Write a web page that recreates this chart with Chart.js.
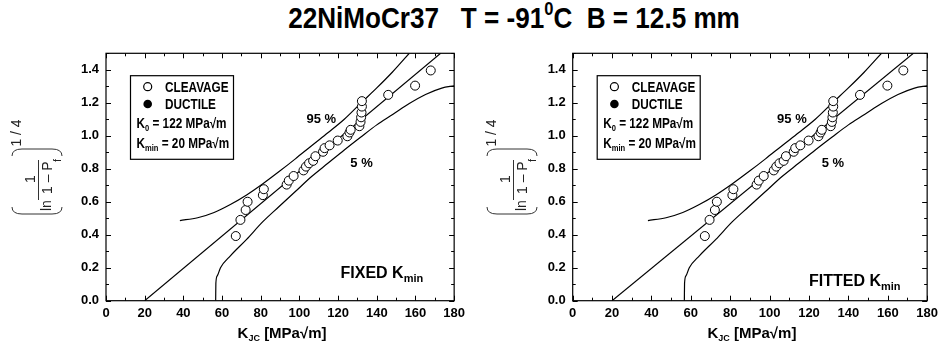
<!DOCTYPE html>
<html>
<head>
<meta charset="utf-8">
<script src="https://cdn.jsdelivr.net/npm/chart.js@4.4.0/dist/chart.umd.min.js"></script>
<style>
body{margin:0;background:#fff;width:943px;height:343px;overflow:hidden;position:relative}
#titulo{position:absolute;left:0;width:1028px;top:1px;text-align:center;white-space:pre;
  font:bold 30px "Liberation Sans Narrow","Arial Narrow","Liberation Sans",Arial,sans-serif;color:#000;
  transform:scaleX(0.87);transform-origin:514px 0}
#titulo sup{font-size:19px;vertical-align:13px;line-height:0}
canvas{position:absolute;top:0}
#GraficoFixo{left:0}
#GraficoAjustado{left:470px}
</style>
</head>
<body>
<div id="titulo">22NiMoCr37   T = -91<sup>0</sup>C  B = 12.5 mm</div>
<canvas id="GraficoFixo" width="470" height="343"></canvas>
<canvas id="GraficoAjustado" width="473" height="343"></canvas>
<script>
// K_JC dos ensaios (clivagem) e posicao de ordem (ln(1/(1-Pf)))^(1/4)
const kJC = [67.1, 69.5, 72.2, 73.2, 81.1, 81.6, 93.4, 94.5, 97.0, 102.1, 103.4, 105.0, 107.1, 108.3, 112.2, 113.0, 115.6, 119.8, 124.8, 125.9, 126.5, 131.0, 131.6, 131.9, 132.1, 132.3, 132.3, 145.9, 159.8, 167.9];
const rankPf = [0.392, 0.49, 0.55, 0.60, 0.64, 0.676, 0.704, 0.728, 0.756, 0.79, 0.813, 0.833, 0.848, 0.876, 0.903, 0.925, 0.942, 0.971, 0.997, 1.02, 1.036, 1.058, 1.084, 1.112, 1.141, 1.177, 1.21, 1.248, 1.304, 1.396];

// curva mediana
const medianaK = [20, 173];
const medianaY = [0, 1.5];

// limite 95 %
const sup95K = [38.2, 47.4, 55.9, 64.3, 72.7, 81.1, 89.5, 97.9, 106.3, 114.7, 123.2, 131.6, 140.0, 148.0, 156.8];
const sup95Y = [0.486, 0.503, 0.535, 0.583, 0.641, 0.709, 0.783, 0.86, 0.94, 1.018, 1.1, 1.196, 1.29, 1.385, 1.5];

// limite 5 %
const inf5K = [56.7, 56.8, 57.5, 59.2, 64.3, 72.7, 81.1, 89.5, 97.9, 106.3, 114.7, 123.2, 131.6, 140.0, 148.4, 156.8, 165.2, 173.6, 180];
const inf5Y = [0, 0.105, 0.15, 0.2, 0.272, 0.372, 0.479, 0.571, 0.662, 0.753, 0.833, 0.914, 0.991, 1.066, 1.13, 1.195, 1.25, 1.289, 1.303];

const ticksX = [0, 20, 40, 60, 80, 100, 120, 140, 160, 180];
const ticksY = [0.0, 0.2, 0.4, 0.6, 0.8, 1.0, 1.2, 1.4];

const FONTE = '"Liberation Sans", Arial, sans-serif';

function pares(xs, ys) {
    return xs.map(function (v, i) { return { x: v, y: ys[i] }; });
}

// texto com indices; k = compressao horizontal
function rico(ctx, partes, x, y, align, k) {
    k = k || 1;
    let w = 0;
    partes.forEach(function (p) { ctx.font = p[1]; w += ctx.measureText(p[0]).width; });
    w *= k;
    let cx = align === 'center' ? x - w / 2 : (align === 'right' ? x - w : x);
    partes.forEach(function (p) {
        ctx.font = p[1];
        ctx.save();
        ctx.translate(cx, y + (p[2] || 0));
        ctx.scale(k, 1);
        ctx.fillText(p[0], 0, 0);
        ctx.restore();
        cx += ctx.measureText(p[0]).width * k;
    });
}

const decoracao = {
    id: 'decoracao',
    afterDraw(chart, args, o) {
        const ctx = chart.ctx, a = chart.chartArea, x = chart.scales.x, y = chart.scales.y;
        ctx.save();
        ctx.strokeStyle = '#000';
        ctx.fillStyle = '#000';
        ctx.lineWidth = 1.2;
        ctx.strokeRect(a.left, a.top, a.right - a.left, a.bottom - a.top);

        // marcas para dentro, nos quatro lados
        ctx.lineWidth = 1;
        ctx.beginPath();
        for (let v = 0; v <= 180; v += 10) {
            const px = Math.round(x.getPixelForValue(v)) + 0.5;
            const L = v % 20 === 0 ? 5 : 3;
            ctx.moveTo(px, a.bottom); ctx.lineTo(px, a.bottom - L);
            ctx.moveTo(px, a.top); ctx.lineTo(px, a.top + L);
        }
        for (let i = 0; i <= 15; i++) {
            const py = Math.round(y.getPixelForValue(i / 10)) + 0.5;
            const L = i % 2 === 0 ? 5 : 3;
            ctx.moveTo(a.left, py); ctx.lineTo(a.left + L, py);
            ctx.moveTo(a.right, py); ctx.lineTo(a.right - L, py);
        }
        ctx.stroke();

        // caixa de legenda
        const bx = a.left + 24.5, by = a.top + 22.4;
        ctx.lineWidth = 1.2;
        ctx.strokeRect(bx, by, 103, 83.6);
        ctx.beginPath();
        ctx.arc(a.left + 41.7, a.top + 33.4, 4, 0, Math.PI * 2);
        ctx.stroke();
        ctx.beginPath();
        ctx.arc(a.left + 41.7, a.top + 50.7, 4.3, 0, Math.PI * 2);
        ctx.fill();
        ctx.textBaseline = 'alphabetic';
        const b14 = 'bold 14px ' + FONTE, b9 = 'bold 9px ' + FONTE, c = 0.84;
        rico(ctx, [['CLEAVAGE', b14]], a.left + 59, a.top + 38.6, 'left', c);
        rico(ctx, [['DUCTILE', b14]], a.left + 59, a.top + 55.9, 'left', c);
        rico(ctx, [['K', b14], ['0', b9, 3], [' = 122 MPa\u221Am', b14]], a.left + 30.5, a.top + 75, 'left', c);
        rico(ctx, [['K', b14], ['min', b9, 3], [' = 20 MPa\u221Am', b14]], a.left + 30.5, a.top + 95, 'left', c);

        // rotulos das curvas
        const b13 = 'bold 13px ' + FONTE;
        rico(ctx, [['95 %', b13]], x.getPixelForValue(111.3), y.getPixelForValue(1.107) + 5, 'center');
        rico(ctx, [['5 %', b13]], x.getPixelForValue(132.1), y.getPixelForValue(0.843) + 5, 'center');
        rico(ctx, [[o.painel + ' K', 'bold 16px ' + FONTE], ['min', 'bold 11px ' + FONTE, 4]],
            x.getPixelForValue(o.painelX), y.getPixelForValue(o.painelY) + 6, 'right');

        // titulo do eixo x
        rico(ctx, [['K', 'bold 15px ' + FONTE], ['JC', 'bold 9px ' + FONTE, 3], [' [MPa\u221Am]', 'bold 15px ' + FONTE]],
            (a.left + a.right) / 2 + 2, 338, 'center');

        // titulo do eixo y: (ln 1/(1-Pf))^(1/4)
        ctx.translate(o.tituloX, 181);
        ctx.rotate(-Math.PI / 2);
        ctx.strokeStyle = '#333';
        ctx.fillStyle = '#222';
        ctx.lineWidth = 1;
        ctx.beginPath();
        ctx.moveTo(-26, -25); ctx.quadraticCurveTo(-33, -25, -33, -15); ctx.lineTo(-33, 15);
        ctx.quadraticCurveTo(-33, 25, -26, 25);
        ctx.moveTo(25, -25); ctx.quadraticCurveTo(32, -25, 32, -15); ctx.lineTo(32, 15);
        ctx.quadraticCurveTo(32, 25, 25, 25);
        ctx.moveTo(-19, 1.5); ctx.lineTo(21, 1.5);
        ctx.stroke();
        const n14 = '14px ' + FONTE;
        rico(ctx, [['1', n14]], 2, -2, 'center');
        rico(ctx, [['ln', n14]], -30, 14, 'left');
        rico(ctx, [['1 \u2013 P', n14]], -13, 15, 'left');
        rico(ctx, [['f', '11px ' + FONTE]], 19, 24, 'left');
        rico(ctx, [['1 / 4', n14]], 48, -16, 'center');
        ctx.restore();
    }
};

function MontarPainel(id, painel, painelX, painelY, eixoY, direita, tituloX) {
    new Chart(document.getElementById(id), {
        type: 'scatter',
        data: {
            datasets: [{
                label: 'CLEAVAGE',
                data: pares(kJC, rankPf),
                pointRadius: 4.5,
                pointBorderWidth: 1,
                borderColor: '#000',
                backgroundColor: '#fff'
            }, {
                label: 'mediana',
                data: pares(medianaK, medianaY),
                showLine: true, pointRadius: 0, borderColor: '#000', borderWidth: 1.2
            }, {
                label: '95 %',
                data: pares(sup95K, sup95Y),
                showLine: true, pointRadius: 0, borderColor: '#000', borderWidth: 1.2,
                cubicInterpolationMode: 'monotone'
            }, {
                label: '5 %',
                data: pares(inf5K, inf5Y),
                showLine: true, pointRadius: 0, borderColor: '#000', borderWidth: 1.2,
                cubicInterpolationMode: 'monotone'
            }]
        },
        options: {
            responsive: false,
            animation: false,
            layout: { padding: { left: 0, right: direita, top: 53.3, bottom: 0 } },
            plugins: {
                legend: { display: false },
                tooltip: { enabled: false },
                decoracao: { painel: painel, painelX: painelX, painelY: painelY, tituloX: tituloX }
            },
            scales: {
                x: {
                    type: 'linear', min: 0, max: 180,
                    afterFit: function (s) { s.height = 42.3; },
                    afterBuildTicks: function (s) { s.ticks = ticksX.map(function (v) { return { value: v }; }); },
                    grid: { display: false, drawTicks: false },
                    border: { display: false },
                    ticks: { padding: 5, color: '#000', maxRotation: 0, font: { family: FONTE, size: 13, weight: 'bold' } }
                },
                y: {
                    type: 'linear', min: 0, max: 1.5,
                    afterFit: function (s) { s.width = eixoY; },
                    afterBuildTicks: function (s) { s.ticks = ticksY.map(function (v) { return { value: v }; }); },
                    grid: { display: false, drawTicks: false },
                    border: { display: false },
                    ticks: {
                        padding: 7, color: '#000', font: { family: FONTE, size: 13, weight: 'bold' },
                        callback: function (v) { return v.toFixed(1); }
                    }
                }
            }
        },
        plugins: [decoracao]
    });
}

MontarPainel('GraficoFixo', 'FIXED', 164, 0.176, 106, 7.3, 37);
MontarPainel('GraficoAjustado', 'FITTED', 166.5, 0.125, 102.7, 13, 42);
</script>
</body>
</html>
